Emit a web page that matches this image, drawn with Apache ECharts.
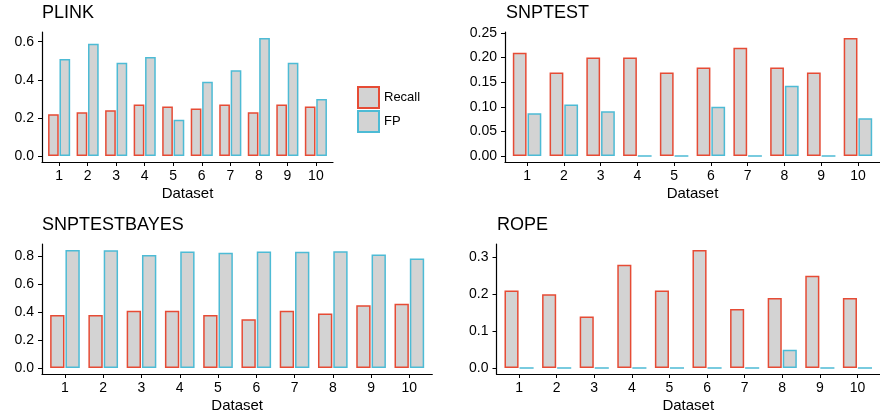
<!doctype html>
<html lang="en">
<head>
<meta charset="UTF-8">
<title>Recall / FP by dataset</title>
<script src="https://cdn.jsdelivr.net/npm/echarts@6/dist/echarts.min.js"></script>
<style>
  html, body { margin: 0; padding: 0; background: #fff; }
  #main { width: 880px; height: 418px; }
</style>
</head>
<body>
<div id="main"></div>
<script type="text/javascript">
// data
var datasets = [1, 2, 3, 4, 5, 6, 7, 8, 9, 10];

var plinkRecall = [0.22, 0.23, 0.24, 0.27, 0.26, 0.25, 0.27, 0.23, 0.27, 0.26];
var plinkFP     = [0.51, 0.59, 0.49, 0.52, 0.19, 0.39, 0.45, 0.62, 0.49, 0.30];

var snptestRecall = [0.21, 0.17, 0.20, 0.20, 0.17, 0.18, 0.22, 0.18, 0.17, 0.24];
var snptestFP     = [0.087, 0.105, 0.091, 0, 0, 0.10, 0, 0.143, 0, 0.077];

var bayesRecall = [0.38, 0.38, 0.41, 0.41, 0.38, 0.35, 0.41, 0.39, 0.45, 0.46];
var bayesFP     = [0.845, 0.843, 0.809, 0.833, 0.824, 0.833, 0.831, 0.836, 0.812, 0.783];

var ropeRecall = [0.21, 0.20, 0.14, 0.28, 0.21, 0.32, 0.16, 0.19, 0.25, 0.19];
var ropeFP     = [0, 0, 0, 0, 0, 0, 0, 0.05, 0, 0];

var plinkTicks   = [0, 0.2, 0.4, 0.6];
var snptestTicks = [0, 0.05, 0.10, 0.15, 0.20, 0.25];
var bayesTicks   = [0, 0.2, 0.4, 0.6, 0.8];
var ropeTicks    = [0, 0.1, 0.2, 0.3];

var RED = '#E64B35', CYAN = '#4DBBD5', FILL = '#D3D3D3';
var FONT = '"Liberation Sans", Arial, sans-serif';

var myChart = echarts.init(document.getElementById('main'));

// one panel = grid + axes + title + two bar series
var panels = [
    {name: 'PLINK',        recall: plinkRecall,   fp: plinkFP,   ticks: plinkTicks,   dec: 1,
     grid: {left: 42, right: 547, top: 32, height: 130}, title: {left: 42, top: 4}},
    {name: 'SNPTEST',      recall: snptestRecall, fp: snptestFP, ticks: snptestTicks, dec: 2,
     grid: {left: 505, right: -8.6, top: 32, height: 130}, title: {left: 506, top: 4}},
    {name: 'SNPTESTBAYES', recall: bayesRecall,   fp: bayesFP,   ticks: bayesTicks,   dec: 1,
     grid: {left: 42, right: 447.7, top: 244, height: 130}, title: {left: 42, top: 216}},
    {name: 'ROPE',         recall: ropeRecall,    fp: ropeFP,    ticks: ropeTicks,    dec: 1,
     grid: {left: 496.5, right: -9.1, top: 244, height: 130}, title: {left: 497, top: 216}}
];

var grids = [], xAxes = [], yAxes = [], titles = [], series = [];

panels.forEach(function (p, i) {
    var top = Math.max.apply(null, p.recall.concat(p.fp));
    grids.push(p.grid);
    titles.push({
        text: p.name, left: p.title.left, top: p.title.top, padding: 0,
        textStyle: {fontFamily: FONT, fontSize: 18, fontWeight: 'normal', color: '#000'}
    });
    xAxes.push({
        type: 'value', gridIndex: i, min: 0.4, max: 10.6,
        name: 'Dataset', nameLocation: 'middle', nameGap: 24,
        nameTextStyle: {fontFamily: FONT, fontSize: 15, color: '#000'},
        splitLine: {show: false},
        axisLine: {onZero: false, lineStyle: {color: '#000', width: 1.2}},
        axisTick: {customValues: datasets, length: 4, lineStyle: {color: '#000'}},
        axisLabel: {customValues: datasets, margin: 7, fontFamily: FONT, fontSize: 14, color: '#000'}
    });
    yAxes.push({
        type: 'value', gridIndex: i, min: -0.05 * top, max: 1.05 * top,
        splitLine: {show: false},
        axisLine: {show: true, onZero: false, lineStyle: {color: '#000', width: 1.2}},
        axisTick: {show: true, customValues: p.ticks, length: 4, lineStyle: {color: '#000'}},
        axisLabel: {
            customValues: p.ticks, margin: 8, fontFamily: FONT, fontSize: 14, color: '#000',
            formatter: function (v) { return v.toFixed(p.dec); }
        }
    });
    series.push({
        name: 'Recall', type: 'bar', xAxisIndex: i, yAxisIndex: i,
        barWidth: '37.5%', barGap: '6.7%',
        itemStyle: {color: FILL, borderColor: RED, borderWidth: 1.5},
        data: datasets.map(function (d, k) { return [d, p.recall[k]]; })
    });
    series.push({
        name: 'FP', type: 'bar', xAxisIndex: i, yAxisIndex: i,
        barWidth: '37.5%', barGap: '6.7%',
        itemStyle: {color: FILL, borderColor: CYAN, borderWidth: 1.5},
        data: datasets.map(function (d, k) { return [d, p.fp[k]]; })
    });
});

var option = {
    backgroundColor: '#fff',
    animation: false,
    title: titles,
    legend: {
        data: ['Recall', 'FP'], orient: 'vertical', left: 357, top: 86,
        padding: 0, itemWidth: 21, itemHeight: 21, itemGap: 1, itemTextGap: 8,
        icon: 'rect', selectedMode: false,
        textStyle: {fontFamily: FONT, fontSize: 13, color: '#000'}
    },
    grid: grids,
    xAxis: xAxes,
    yAxis: yAxes,
    series: series
};

myChart.setOption(option);
</script>
</body>
</html>
